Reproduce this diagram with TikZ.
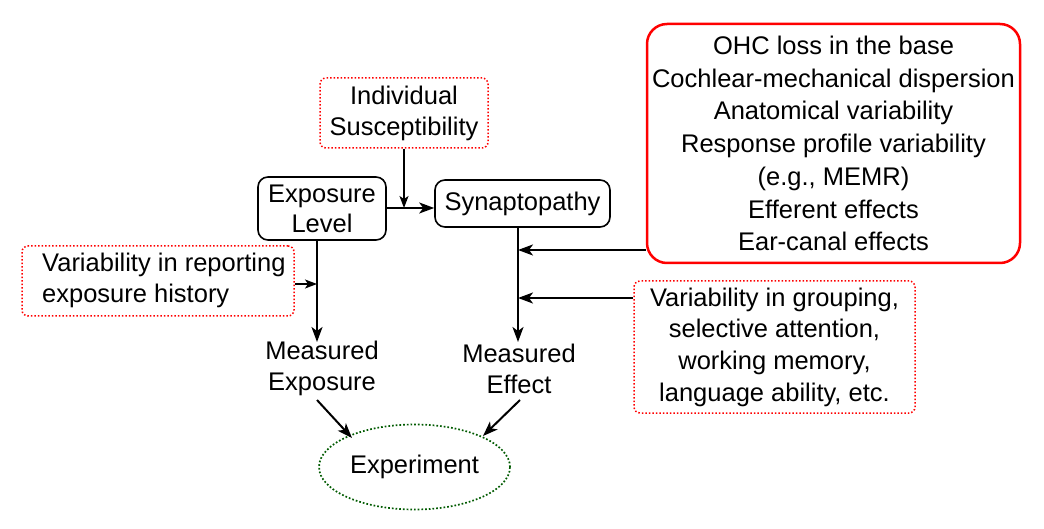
\documentclass[tikz,border=0pt]{standalone}
\usepackage{fontspec}
\setmainfont{Liberation Sans}
\usetikzlibrary{arrows.meta,shapes.geometric}
\begin{document}
\begin{tikzpicture}[x=1pt,y=-1pt,
  every node/.style={font=\fontsize{25.5}{31}\selectfont, align=center, inner sep=0pt},
  blackbox/.style={draw=black, line width=1.6pt, rounded corners=10pt},
  redbox/.style={draw=red, line width=2.5pt, rounded corners=20pt},
  dotbox/.style={draw=red, line width=1.5pt, dotted, rounded corners=6pt},
  conn/.style={line width=2pt, -{Stealth[length=15pt,width=11pt,inset=4pt]}},
  sconn/.style={line width=1.6pt, -{Stealth[length=12pt,width=9pt,inset=3pt]}}
]
\useasboundingbox (0,0) rectangle (1044,529);
\node[dotbox, minimum width=168pt, minimum height=70pt] (sus) at (404,113) {Individual\\Susceptibility};
\node[blackbox, minimum width=128pt, minimum height=63pt, font=\fontsize{25.5}{30}\selectfont] (exp) at (322,208.5) {Exposure\\Level};
\node[blackbox, minimum width=175pt, minimum height=47pt] (syn) at (522.5,203.5) {Synaptopathy};
\node[redbox, minimum width=373pt, minimum height=239pt, font=\fontsize{25.5}{32.7}\selectfont] (ohc) at (833.5,143.5) {OHC loss in the base\\Cochlear-mechanical dispersion\\Anatomical variability\\Response profile variability\\(e.g., MEMR)\\Efferent effects\\Ear-canal effects};
\node[dotbox, minimum width=272pt, minimum height=70pt] (rep) at (158,281) {};
\node[anchor=west] (reptext) at (42,281) {\begin{tabular}{@{}l@{}}Variability in reporting\\exposure history\end{tabular}};
\node[dotbox, minimum width=281pt, minimum height=132pt, font=\fontsize{25.5}{31.7}\selectfont] (grp) at (774.5,347) {Variability in grouping,\\selective attention,\\working memory,\\language ability, etc.};
\node (mexp) at (322,368) {Measured\\Exposure};
\node (meff) at (519,369) {Measured\\Effect};
\node[ellipse, draw={rgb,255:red,0;green,90;blue,0}, line width=1.7pt, dotted, minimum width=191pt, minimum height=85pt] (ex) at (414.5,467) {Experiment};
\coordinate (j1) at (404,208);
\coordinate (j2) at (317,284);
\coordinate (j3) at (518,250);
\coordinate (j4) at (518,298);
\draw[conn] (exp.east |- 0,208) -- (syn.west |- 0,208);
\draw[sconn] (sus.south) -- (j1);
\draw[conn] (exp.south -| 317,0) -- (317,342);
\draw[sconn] (rep.east |- 0,284) -- (j2);
\draw[conn] (syn.south -| 518,0) -- (518,342);
\draw[conn] (ohc.west |- 0,250) -- (j3);
\draw[conn] (grp.west |- 0,298) -- (j4);
\draw[conn] (317,400) -- (352,438);
\draw[conn] (520,400) -- (483,436);
\end{tikzpicture}
\end{document}
